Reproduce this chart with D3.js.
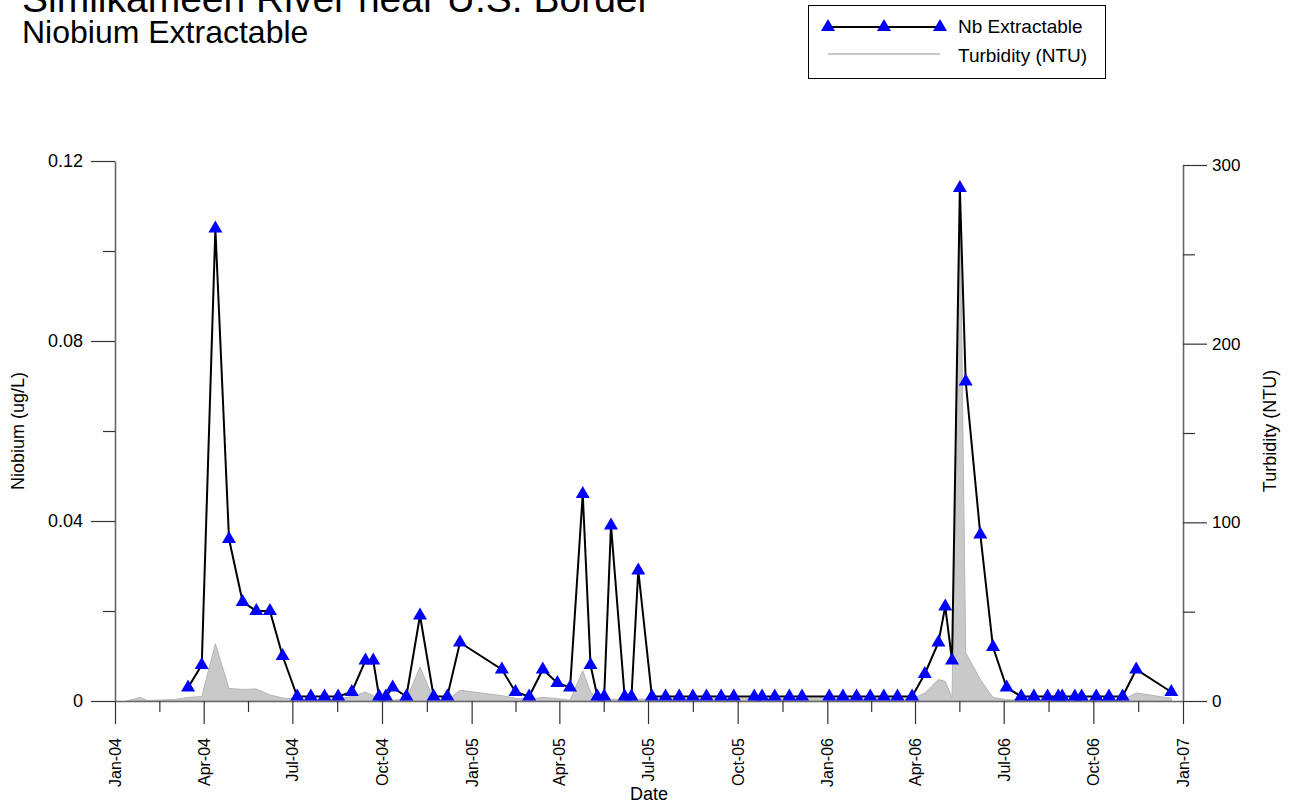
<!DOCTYPE html>
<html>
<head>
<meta charset="utf-8">
<script src="https://cdn.jsdelivr.net/npm/d3@7"></script>
<style>
body { margin: 0; background: #fff; }
svg { font-family: "Liberation Sans", Arial, sans-serif; }
</style>
</head>
<body>
<div id="chart"></div>
<script>
var parseDate = d3.timeParse("%Y-%m-%d");

// Nb extractable samples (ug/L)
var nbDates = ["2004-03-16","2004-03-30","2004-04-13","2004-04-27","2004-05-11","2004-05-25","2004-06-08","2004-06-21",
  "2004-07-06","2004-07-20","2004-08-03","2004-08-17","2004-08-31","2004-09-14","2004-09-22","2004-09-28","2004-10-05",
  "2004-10-12","2004-10-26","2004-11-09","2004-11-23","2004-12-07","2004-12-20","2005-02-01","2005-02-15","2005-03-01",
  "2005-03-15","2005-03-30","2005-04-12","2005-04-25","2005-05-03","2005-05-10","2005-05-17","2005-05-24","2005-06-07",
  "2005-06-14","2005-06-21","2005-07-05","2005-07-19","2005-08-02","2005-08-16","2005-08-30","2005-09-14","2005-09-27",
  "2005-10-18","2005-10-26","2005-11-08","2005-11-23","2005-12-06","2006-01-03","2006-01-17","2006-01-31","2006-02-14",
  "2006-02-28","2006-03-14","2006-03-29","2006-04-11","2006-04-25","2006-05-02","2006-05-09","2006-05-17","2006-05-23",
  "2006-06-07","2006-06-20","2006-07-04","2006-07-19","2006-08-01","2006-08-15","2006-08-26","2006-08-30","2006-09-12",
  "2006-09-19","2006-10-04","2006-10-17","2006-10-31","2006-11-14","2006-12-20"];
var nbValues = [0.003,0.008,0.105,0.036,0.022,0.020,0.020,0.010,
  0.001,0.001,0.001,0.001,0.002,0.009,0.009,0.001,0.001,
  0.003,0.001,0.019,0.001,0.001,0.013,0.007,0.002,0.001,
  0.007,0.004,0.003,0.046,0.008,0.001,0.001,0.039,0.001,
  0.001,0.029,0.001,0.001,0.001,0.001,0.001,0.001,0.001,
  0.001,0.001,0.001,0.001,0.001,0.001,0.001,0.001,0.001,
  0.001,0.001,0.001,0.006,0.013,0.021,0.009,0.114,0.071,
  0.037,0.012,0.003,0.001,0.001,0.001,0.001,0.001,0.001,
  0.001,0.001,0.001,0.001,0.007,0.002];

// turbidity (NTU)
var turbDates = ["2004-01-13","2004-01-27","2004-02-03","2004-03-02","2004-03-16","2004-03-30","2004-04-13","2004-04-27",
  "2004-05-11","2004-05-25","2004-06-08","2004-06-21","2004-07-06","2004-07-20","2004-08-03","2004-08-17","2004-08-31",
  "2004-09-14","2004-09-22","2004-09-28","2004-10-05","2004-10-12","2004-10-26","2004-11-09","2004-11-23","2004-12-07",
  "2004-12-20","2005-02-01","2005-02-15","2005-03-01","2005-03-15","2005-03-30","2005-04-12","2005-04-25","2005-05-03",
  "2005-05-10","2005-05-17","2005-05-24","2005-06-07","2005-06-14","2005-06-21","2005-07-05","2005-08-16","2005-09-27",
  "2005-11-08","2005-12-06","2006-01-31","2006-03-14","2006-03-29","2006-04-11","2006-04-25","2006-05-02","2006-05-09",
  "2006-05-17","2006-05-23","2006-06-07","2006-06-20","2006-07-04","2006-08-15","2006-09-19","2006-10-31","2006-11-14",
  "2006-12-20"];
var turbValues = [0,2,0.3,0.8,2,2.5,32,7,
  6.5,6.7,3.4,1.7,1,0.8,0.8,1,2.5,
  5,3,1,0.5,0.5,1,19,1,0.5,
  6,3,1.5,1,2,1.3,0.5,17,5,
  1.5,1,1,0.8,0.8,1,1.2,1.2,1.2,
  1.2,1.2,1.2,1.2,1,4.5,12,11,2,
  290,27,12,2,0.7,0.5,0.5,0.5,4.5,
  1.5];

var nbTicks = [0, 0.04, 0.08, 0.12];
var nbMinor = [0.02, 0.06, 0.10];
var turbTicks = [0, 100, 200, 300];
var turbMinor = [50, 150, 250];

var nb = nbDates.map(function(d, i) { return { date: parseDate(d), value: nbValues[i] }; });
var turb = turbDates.map(function(d, i) { return { date: parseDate(d), value: turbValues[i] }; });

var width = 1298, height = 806;
var margin = { left: 115, right: 1183, top: 161, bottom: 701 };

var svg = d3.select("#chart").append("svg")
  .attr("width", width).attr("height", height);

var x = d3.scaleTime()
  .domain([parseDate("2004-01-01"), parseDate("2007-01-01")])
  .range([margin.left, margin.right]);

var y = d3.scaleLinear().domain([0, 0.12]).range([margin.bottom, margin.top]);
var y2 = d3.scaleLinear().domain([0, 300]).range([margin.bottom, 165]);

// turbidity area
var area = d3.area()
  .x(function(d) { return x(d.date); })
  .y0(margin.bottom)
  .y1(function(d) { return y2(d.value); });

svg.append("path")
  .datum(turb)
  .attr("d", area)
  .attr("fill", "#c9c9c9")
  .attr("stroke", "#b5b5b5")
  .attr("stroke-width", 1);

// x axis
var quarters = d3.timeMonth.every(3).range(parseDate("2004-01-01"), parseDate("2007-01-02"));
var mids = quarters.slice(0, -1).map(function(d, i) {
  return new Date((d.getTime() + quarters[i + 1].getTime()) / 2);
});
var fmt = d3.timeFormat("%b-%y");

var xAxis = svg.append("g")
  .attr("transform", "translate(0," + margin.bottom + ")")
  .call(d3.axisBottom(x).tickValues(quarters).tickSize(23).tickSizeOuter(0).tickFormat(fmt));
xAxis.selectAll("text")
  .attr("transform", "rotate(-90)")
  .attr("text-anchor", "end")
  .attr("x", -37)
  .attr("y", 0)
  .attr("dy", "0.35em");

svg.append("g")
  .attr("class", "minor")
  .attr("transform", "translate(0," + margin.bottom + ")")
  .call(d3.axisBottom(x).tickValues(mids).tickSize(11).tickFormat(""));

// left axis
var yAxis = svg.append("g")
  .attr("transform", "translate(" + margin.left + ",0)")
  .call(d3.axisLeft(y).tickValues(nbTicks).tickSize(24).tickSizeOuter(0).tickPadding(8)
    .tickFormat(function(d) { return d === 0 ? "0" : d.toFixed(2); }));
svg.append("g")
  .attr("class", "minor")
  .attr("transform", "translate(" + margin.left + ",0)")
  .call(d3.axisLeft(y).tickValues(nbMinor).tickSize(12).tickFormat(""));

// right axis
var y2Axis = svg.append("g")
  .attr("transform", "translate(" + margin.right + ",0)")
  .call(d3.axisRight(y2).tickValues(turbTicks).tickSize(24).tickSizeOuter(0).tickPadding(5));
svg.append("g")
  .attr("class", "minor")
  .attr("transform", "translate(" + margin.right + ",0)")
  .call(d3.axisRight(y2).tickValues(turbMinor).tickSize(12).tickFormat(""));

svg.selectAll(".minor .domain").remove();
svg.selectAll(".tick line").attr("stroke", "#333").attr("stroke-width", 1.2);
svg.selectAll(".domain").attr("stroke", "#666").attr("stroke-width", 1.6);
svg.selectAll(".tick text").attr("fill", "#000")
  .style("font-family", "'Liberation Sans', Arial, sans-serif");
xAxis.selectAll("text").style("font-size", "16px");
yAxis.selectAll("text").style("font-size", "18px");
y2Axis.selectAll("text").style("font-size", "17px");

// Nb line and markers
var line = d3.line()
  .x(function(d) { return x(d.date); })
  .y(function(d) { return y(d.value); });

svg.append("path")
  .datum(nb)
  .attr("d", line)
  .attr("fill", "none")
  .attr("stroke", "#000")
  .attr("stroke-width", 2);

var tri = d3.symbol().type(d3.symbolTriangle).size(85);

svg.selectAll(".pt")
  .data(nb)
  .enter().append("path")
  .attr("class", "pt")
  .attr("d", tri)
  .attr("transform", function(d) { return "translate(" + x(d.date) + "," + y(d.value) + ")"; })
  .attr("fill", "#0000ff");

// titles
svg.append("text").attr("x", 22).attr("y", 12)
  .style("font-size", "39px").text("Similkameen River near U.S. Border");
svg.append("text").attr("x", 22).attr("y", 43)
  .style("font-size", "32px").text("Niobium Extractable");

// axis labels
svg.append("text")
  .attr("transform", "translate(24," + ((margin.top + margin.bottom) / 2) + ") rotate(-90)")
  .attr("text-anchor", "middle")
  .style("font-size", "18px")
  .text("Niobium (ug/L)");

svg.append("text")
  .attr("transform", "translate(1276," + ((margin.top + margin.bottom) / 2) + ") rotate(-90)")
  .attr("text-anchor", "middle")
  .style("font-size", "18px")
  .text("Turbidity (NTU)");

svg.append("text")
  .attr("x", (margin.left + margin.right) / 2).attr("y", 800)
  .attr("text-anchor", "middle")
  .style("font-size", "18px")
  .text("Date");

// legend
var legend = svg.append("g");
legend.append("rect")
  .attr("x", 808.5).attr("y", 5.5).attr("width", 297).attr("height", 73)
  .attr("fill", "#fff").attr("stroke", "#000").attr("stroke-width", 1);
legend.append("line")
  .attr("x1", 828).attr("x2", 940).attr("y1", 27).attr("y2", 27)
  .attr("stroke", "#000").attr("stroke-width", 2);
legend.selectAll(".lt")
  .data([828, 884, 940])
  .enter().append("path")
  .attr("d", tri)
  .attr("transform", function(d) { return "translate(" + d + ",27)"; })
  .attr("fill", "#0000ff");
legend.append("line")
  .attr("x1", 828).attr("x2", 940).attr("y1", 54).attr("y2", 54)
  .attr("stroke", "#b5b5b5").attr("stroke-width", 1.5);
legend.append("text").attr("x", 958).attr("y", 33)
  .style("font-size", "19px").text("Nb Extractable");
legend.append("text").attr("x", 958).attr("y", 62)
  .style("font-size", "19px").text("Turbidity (NTU)");
</script>
</body>
</html>
